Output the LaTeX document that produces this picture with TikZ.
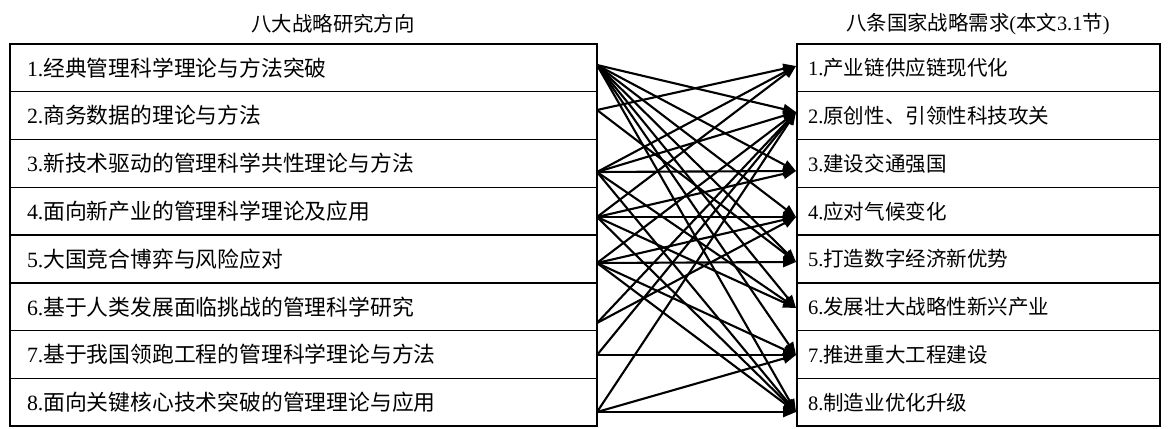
\documentclass[tikz,border=0pt]{standalone}
\usepackage{fontspec}
\setmainfont{Liberation Serif}
\newfontfamily\cjk{Noto Sans CJK SC}
\usetikzlibrary{arrows.meta, positioning}

\begin{document}
\begin{tikzpicture}[
  x=0.025cm, y=-0.025cm,
  dirbox/.style={rectangle, draw, line width=1pt, outer sep=0pt, inner xsep=0.425cm, text width=13.825cm, minimum height=1.194cm, align=left, font=\fontsize{15.5}{18}\selectfont},
  needbox/.style={rectangle, draw, line width=1pt, outer sep=0pt, inner xsep=0.275cm, text width=8.525cm, minimum height=1.194cm, align=left, font=\fontsize{14.6}{17}\selectfont},
  heading/.style={font=\fontsize{14.5}{17}\selectfont},
  link/.style={-{Triangle[length=3.2mm, width=2.5mm]}, line width=1.5pt}
]
  \useasboundingbox (0,0) rectangle (1170,428);

  % Headings
  \node[heading] (dirtitle) at (333,24) {\cjk 八大战略研究方向};
  \node[heading] (needtitle) at (978,24) {{\cjk 八条国家战略需求}({\cjk 本文}3.1{\cjk 节})};

  % Research directions
  \node[dirbox, anchor=north west] (d1) at (10,44) {1.{\cjk 经典管理科学理论与方法突破}};
  \node[dirbox, below=0pt of d1] (d2) {2.{\cjk 商务数据的理论与方法}};
  \node[dirbox, below=0pt of d2] (d3) {3.{\cjk 新技术驱动的管理科学共性理论与方法}};
  \node[dirbox, below=0pt of d3] (d4) {4.{\cjk 面向新产业的管理科学理论及应用}};
  \node[dirbox, below=0pt of d4] (d5) {5.{\cjk 大国竞合博弈与风险应对}};
  \node[dirbox, below=0pt of d5] (d6) {6.{\cjk 基于人类发展面临挑战的管理科学研究}};
  \node[dirbox, below=0pt of d6] (d7) {7.{\cjk 基于我国领跑工程的管理科学理论与方法}};
  \node[dirbox, below=0pt of d7] (d8) {8.{\cjk 面向关键核心技术突破的管理理论与应用}};

  % National needs
  \node[needbox, anchor=north west] (n1) at (797,44) {1.{\cjk 产业链供应链现代化}};
  \node[needbox, below=0pt of n1] (n2) {2.{\cjk 原创性、引领性科技攻关}};
  \node[needbox, below=0pt of n2] (n3) {3.{\cjk 建设交通强国}};
  \node[needbox, below=0pt of n3] (n4) {4.{\cjk 应对气候变化}};
  \node[needbox, below=0pt of n4] (n5) {5.{\cjk 打造数字经济新优势}};
  \node[needbox, below=0pt of n5] (n6) {6.{\cjk 发展壮大战略性新兴产业}};
  \node[needbox, below=0pt of n6] (n7) {7.{\cjk 推进重大工程建设}};
  \node[needbox, below=0pt of n7] (n8) {8.{\cjk 制造业优化升级}};

  % Arrow ends
  \coordinate (s1) at (597,65);
  \coordinate (s2) at (597,110);
  \coordinate (s3) at (597,172);
  \coordinate (s4) at (597,217);
  \coordinate (s5) at (597,263);
  \coordinate (s6) at (597,323);
  \coordinate (s7) at (597,355);
  \coordinate (s8) at (597,412);
  \coordinate (t1) at (796,66);
  \coordinate (t2) at (796,112);
  \coordinate (t3) at (796,171);
  \coordinate (t4) at (796,217);
  \coordinate (t5) at (796,262);
  \coordinate (t6) at (796,308);
  \coordinate (t7) at (796,355);
  \coordinate (t8) at (796,412);

  % Links
  \draw[link] (s1) -- (t2);
  \draw[link] (s1) -- (t3);
  \draw[link] (s1) -- (t4);
  \draw[link] (s1) -- (t5);
  \draw[link] (s1) -- (t6);
  \draw[link] (s1) -- (t7);
  \draw[link] (s1) -- (t8);
  \draw[link] (s2) -- (t1);
  \draw[link] (s2) -- (t5);
  \draw[link] (s3) -- (t1);
  \draw[link] (s3) -- (t2);
  \draw[link] (s3) -- (t3);
  \draw[link] (s3) -- (t6);
  \draw[link] (s3) -- (t8);
  \draw[link] (s4) -- (t1);
  \draw[link] (s4) -- (t3);
  \draw[link] (s4) -- (t4);
  \draw[link] (s4) -- (t6);
  \draw[link] (s4) -- (t8);
  \draw[link] (s5) -- (t2);
  \draw[link] (s5) -- (t4);
  \draw[link] (s5) -- (t5);
  \draw[link] (s5) -- (t7);
  \draw[link] (s5) -- (t8);
  \draw[link] (s6) -- (t2);
  \draw[link] (s6) -- (t4);
  \draw[link] (s7) -- (t2);
  \draw[link] (s7) -- (t7);
  \draw[link] (s8) -- (t2);
  \draw[link] (s8) -- (t7);
  \draw[link] (s8) -- (t8);
\end{tikzpicture}
\end{document}
